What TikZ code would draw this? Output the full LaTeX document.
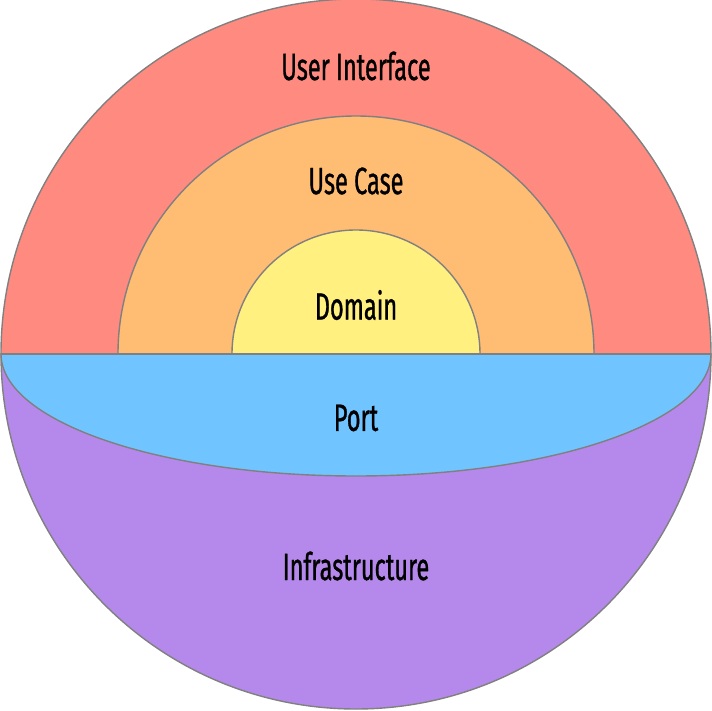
\documentclass[tikz,border=0pt]{standalone}
\usepackage{fontspec}
\newfontfamily\layerfont[FakeStretch=0.62, FakeBold=0.8]{Fira Sans}
\definecolor{uired}{RGB}{255,138,128}
\definecolor{caseorange}{RGB}{255,188,115}
\definecolor{domyellow}{RGB}{255,240,128}
\definecolor{portblue}{RGB}{112,196,255}
\definecolor{infrapurple}{RGB}{181,137,235}
\definecolor{rimgray}{RGB}{128,128,128}
\tikzset{
  layer/.style={draw=rimgray, line width=1.4pt},
  layertext/.style={inner sep=0.75pt, font=\layerfont\fontsize{38}{42}\selectfont}
}
\begin{document}
\begin{tikzpicture}[x=1pt,y=1pt]
  \useasboundingbox (-356,-356) rectangle (356,354);

  % lower half
  \path[layer, fill=infrapurple] (-355,0) arc[start angle=180, end angle=360, radius=355] -- cycle;
  \path[layer, fill=portblue] (-355,0) arc[start angle=180, end angle=360, x radius=355, y radius=122] -- cycle;

  % upper half
  \path[layer, fill=uired] (-355,0) arc[start angle=180, end angle=0, radius=355] -- cycle;
  \path[layer, fill=caseorange] (-238,0) arc[start angle=180, end angle=0, radius=238] -- cycle;
  \path[layer, fill=domyellow] (-124,0) arc[start angle=180, end angle=0, radius=124] -- cycle;

  % divider
  \draw[rimgray, line width=2.4pt] (-355,0) -- (355,0);

  % labels
  \node[layertext] (ui) at (0,288) {User Interface};
  \node[layertext] (usecase) at (0,173) {Use Case};
  \node[layertext] (domain) at (0,49) {Domain};
  \node[layertext] (port) at (0,-64) {Port};
  \node[layertext] (infra) at (0,-212) {Infrastructure};
\end{tikzpicture}
\end{document}
